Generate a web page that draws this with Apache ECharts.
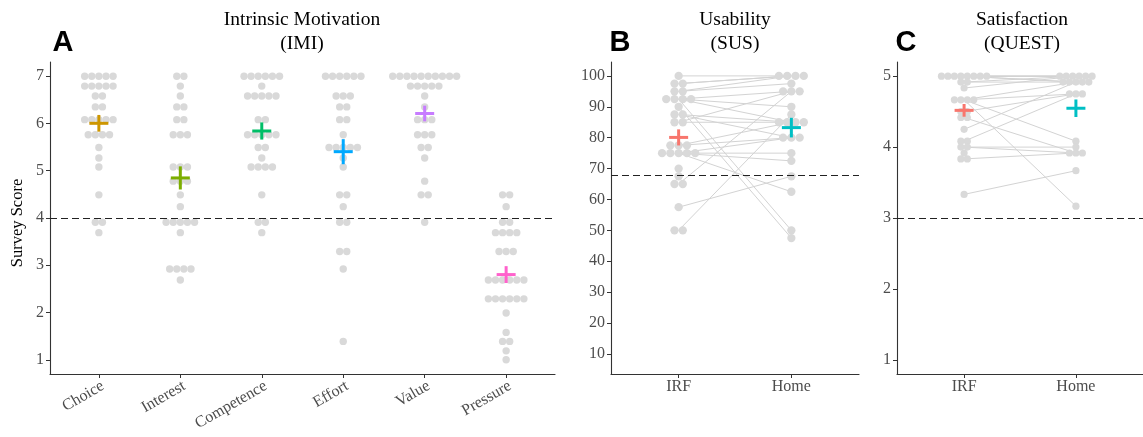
<!DOCTYPE html>
<html><head><meta charset="utf-8">
<script src="https://cdn.jsdelivr.net/npm/echarts@6/dist/echarts.min.js"></script>
<style>html,body{margin:0;padding:0;background:#fff}#c{width:1143px;height:437px}</style>
</head><body><div id="c"></div>
<script>
// ---------- DATA ----------
const imiCategories = ['Choice', 'Interest', 'Competence', 'Effort', 'Value', 'Pressure'];
const imiChoice = [7,7,7,7,7, 6.79,6.79,6.79,6.79,6.79, 6.58,6.58, 6.35,6.35, 6.08,6.08,6.08,6.08,6.08, 5.76,5.76,5.76,5.76, 5.49, 5.27, 5.08, 4.49, 3.91,3.91, 3.69];
const imiInterest = [7,7, 6.79, 6.58, 6.35,6.35, 6.08,6.08, 5.76,5.76,5.76, 5.08,5.08,5.08, 4.78,4.78,4.78, 4.49, 4.24, 3.91,3.91,3.91,3.91,3.91, 3.69, 2.92,2.92,2.92,2.92, 2.69];
const imiCompetence = [7,7,7,7,7,7, 6.79, 6.58,6.58,6.58,6.58,6.58, 6.08,6.08, 5.76,5.76,5.76,5.76,5.76, 5.49,5.49, 5.27, 5.08,5.08,5.08,5.08, 4.49, 3.91,3.91, 3.69];
const imiEffort = [7,7,7,7,7,7, 6.58,6.58,6.58, 6.35,6.35, 6.08,6.08, 5.76, 5.49,5.49,5.49,5.49,5.49, 5.27, 5.08, 4.49,4.49, 4.24, 3.91,3.91, 3.29,3.29, 2.92, 1.39];
const imiValue = [7,7,7,7,7,7,7,7,7,7, 6.79,6.79,6.79,6.79,6.79, 6.58, 6.35, 6.08,6.08,6.08, 5.76,5.76,5.76, 5.49,5.49, 5.27, 4.78, 4.49,4.49, 3.91];
const imiPressure = [4.49,4.49, 4.24, 3.91,3.91, 3.69,3.69,3.69,3.69, 3.29,3.29,3.29, 2.69,2.69,2.69,2.69,2.69,2.69, 2.29,2.29,2.29,2.29,2.29,2.29, 1.99, 1.58, 1.39,1.39, 1.19, 1.0];
const imiColors = ['#CD9600', '#7CAE00', '#00BE67', '#00A9FF', '#C77CFF', '#FF61CC'];

const sessionLabels = ['IRF', 'Home'];
const sessionColors = ['#F8766D', '#00BFC4'];
// one entry per participant (null = no score for that session)
const susIRF  = [100,97.5,97.5,95,95,92.5,92.5,92.5,90,87.5,87.5,85,85,77.5,75,75,75,75,65,57.5,50,92.5,77.5, 77.5,75,70,67.5,65,50];
const susHome = [100,100,100,100,97.5,95,85,50,47.5,85,80,85,95,85,80,75,72.5,62.5,95,67.5,87.5,90,80, null,null,null,null,null,null];
const questIRF  = [5,5,5,5,5,5,4.917,4.917,4.833,4.667,4.667,4.667,4.667,4.5,4.417,4.25,4.083,4.0,4.0,3.833,3.333, 5,5,4.5,4.417,4.083,3.917,3.833];
const questHome = [5,5,5,4.917,4.917,5,5,4.917,5,4.75,4.083,3.167,4.917,4.75,3.917,4.917,4.75,4.0,3.917,3.917,3.667, null,null,null,null,null,null,null];

const imiTicks = [1,2,3,4,5,6,7];
const susTicks = [10,20,30,40,50,60,70,80,90,100];
const questTicks = [1,2,3,4,5];
const imiCutoff = 4, susCutoff = 68, questCutoff = 3;

// ---------- helpers ----------
function swarm(values, cx, step) {
  const groups = new Map();
  values.forEach(v => { if (v == null) return; const k = v.toFixed(3); if (!groups.has(k)) groups.set(k, []); groups.get(k).push(v); });
  const pts = [];
  groups.forEach(arr => { const n = arr.length; arr.forEach((v, i) => pts.push([cx + (i - (n - 1) / 2) * step, v])); });
  return pts;
}
function stats(values) {
  const v = values.filter(x => x != null);
  const n = v.length, m = v.reduce((a, b) => a + b, 0) / n;
  const sd = Math.sqrt(v.reduce((a, b) => a + (b - m) * (b - m), 0) / (n - 1));
  return [m, sd / Math.sqrt(n)];
}
function pairs(a, b) { const out = []; a.forEach((v, i) => { if (v != null && b[i] != null) out.push([v, b[i]]); }); return out; }

const SERIF = 'Liberation Serif';
const TICKCOL = '#4D4D4D', AXCOL = '#333';
const imiSets = [imiChoice, imiInterest, imiCompetence, imiEffort, imiValue, imiPressure];

function xAxisCat(gi, n, labels, rotate) {
  const vals = labels.map((_, i) => i + 1);
  const lab = { customValues: vals, formatter: v => labels[Math.round(v) - 1], rotate: rotate, margin: 5,
      fontFamily: SERIF, fontSize: 16, color: TICKCOL };
  if (rotate) { lab.align = 'right'; lab.verticalAlign = 'top'; lab.margin = 4; }
  return {
    gridIndex: gi, type: 'value', min: 0.4, max: n + 0.6,
    axisLine: { onZero: false, lineStyle: { color: AXCOL, width: 1.1 } },
    axisTick: { customValues: vals, length: 4, lineStyle: { color: AXCOL } },
    axisLabel: lab,
    splitLine: { show: false }
  };
}
function yAxisVal(gi, min, max, ticks) {
  return {
    gridIndex: gi, type: 'value', min: min, max: max,
    axisLine: { onZero: false, lineStyle: { color: AXCOL, width: 1.1 } },
    axisTick: { customValues: ticks, length: 4, lineStyle: { color: AXCOL } },
    axisLabel: { customValues: ticks, margin: 6, fontFamily: SERIF, fontSize: 16, color: TICKCOL },
    splitLine: { show: false }
  };
}
function dashed(y) {
  return { symbol: 'none', silent: true, label: { show: false }, animation: false,
    lineStyle: { type: [7, 4], color: '#222', width: 1.1 }, data: [{ yAxis: y }] };
}
function crossSeries(gi, items, colors) {
  return {
    type: 'custom', xAxisIndex: gi, yAxisIndex: gi, silent: true, z: 5,
    data: items,
    renderItem: (params, api) => {
      const x = api.value(0), m = api.value(1), se = api.value(2);
      const c = api.coord([x, m]), t = api.coord([x, m + se]), b = api.coord([x, m - se]);
      const col = colors[params.dataIndex];
      return { type: 'group', children: [
        { type: 'line', shape: { x1: c[0] - 9.5, y1: c[1], x2: c[0] + 9.5, y2: c[1] }, style: { stroke: col, lineWidth: 3 } },
        { type: 'line', shape: { x1: c[0], y1: t[1], x2: c[0], y2: b[1] }, style: { stroke: col, lineWidth: 3 } }
      ] };
    }
  };
}
function pairLines(gi, data) {
  return {
    type: 'custom', xAxisIndex: gi, yAxisIndex: gi, silent: true, z: 1,
    data: data,
    renderItem: (params, api) => {
      const p1 = api.coord([1, api.value(0)]), p2 = api.coord([2, api.value(1)]);
      return { type: 'line', shape: { x1: p1[0], y1: p1[1], x2: p2[0], y2: p2[1] }, style: { stroke: '#D3D3D3', lineWidth: 1 } };
    }
  };
}
function dots(gi, data, size, cutoff) {
  return { type: 'scatter', xAxisIndex: gi, yAxisIndex: gi, silent: true, z: 2, symbolSize: size,
    itemStyle: { color: '#D9D9D9', opacity: 1 }, data: data, markLine: dashed(cutoff) };
}

// dots
let imiDots = [];
imiSets.forEach((s, i) => { imiDots = imiDots.concat(swarm(s, i + 1, 0.0872)); });
const susDots = swarm(susIRF, 1, 0.0736).concat(swarm(susHome, 2, 0.0736));
const questDots = swarm(questIRF, 1, 0.0578).concat(swarm(questHome, 2, 0.0578));

const imiCross = imiSets.map((s, i) => { const st = stats(s); return [i + 1, st[0], st[1]]; });
const susCross = [susIRF, susHome].map((s, i) => { const st = stats(s); return [i + 1, st[0], st[1]]; });
const questCross = [questIRF, questHome].map((s, i) => { const st = stats(s); return [i + 1, st[0], st[1]]; });

const titleFont = { fontFamily: SERIF, fontSize: 19.5, fill: '#000', align: 'center', verticalAlign: 'top', lineHeight: 24 };
const letterFont = { fontFamily: 'Liberation Sans', fontWeight: 'bold', fontSize: 29, fill: '#000', align: 'center', verticalAlign: 'middle' };

const option = {
  animation: false,
  backgroundColor: '#fff',
  grid: [
    { left: 50, top: 62, width: 505, height: 312 },
    { left: 611, top: 62, width: 248, height: 312 },
    { left: 897, top: 62, width: 256, height: 312 }
  ],
  xAxis: [
    xAxisCat(0, 6, imiCategories, 30),
    xAxisCat(1, 2, sessionLabels, 0),
    xAxisCat(2, 2, sessionLabels, 0)
  ],
  yAxis: [
    yAxisVal(0, 0.7, 7.3, imiTicks),
    yAxisVal(1, 3.5, 104.5, susTicks),
    yAxisVal(2, 0.8, 5.2, questTicks)
  ],
  graphic: [
    { type: 'text', x: 302, y: 8, style: Object.assign({ text: 'Intrinsic Motivation\n(IMI)' }, titleFont) },
    { type: 'text', x: 735, y: 8, style: Object.assign({ text: 'Usability\n(SUS)' }, titleFont) },
    { type: 'text', x: 1022, y: 8, style: Object.assign({ text: 'Satisfaction\n(QUEST)' }, titleFont) },
    { type: 'text', x: 63, y: 43, style: Object.assign({ text: 'A' }, letterFont) },
    { type: 'text', x: 620, y: 43, style: Object.assign({ text: 'B' }, letterFont) },
    { type: 'text', x: 906, y: 43, style: Object.assign({ text: 'C' }, letterFont) },
    { type: 'text', x: 18, y: 223, rotation: Math.PI / 2,
      style: { text: 'Survey Score', fontFamily: SERIF, fontSize: 16.5, fill: '#000', align: 'center', verticalAlign: 'middle' } }
  ],
  series: [
    dots(0, imiDots, 7.4, imiCutoff),
    crossSeries(0, imiCross, imiColors),
    pairLines(1, pairs(susIRF, susHome)),
    dots(1, susDots, 8.3, susCutoff),
    crossSeries(1, susCross, sessionColors),
    pairLines(2, pairs(questIRF, questHome)),
    dots(2, questDots, 7.2, questCutoff),
    crossSeries(2, questCross, sessionColors)
  ]
};
const chart = echarts.init(document.getElementById('c'), null, { renderer: 'canvas' });
chart.setOption(option);
</script>
</body></html>
